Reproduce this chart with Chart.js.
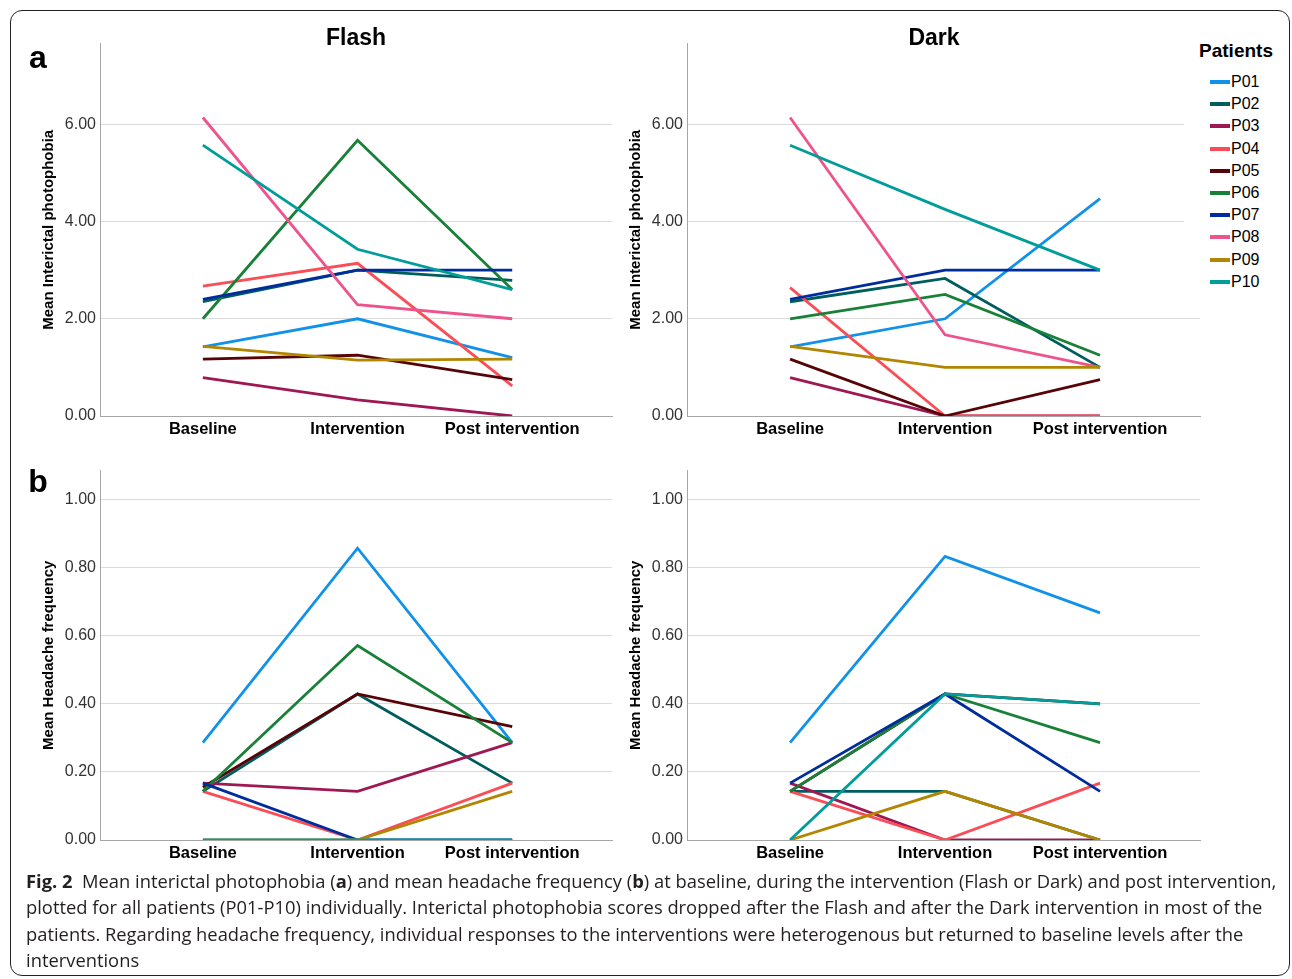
<!DOCTYPE html>
<html>
<head>
<meta charset="utf-8">
<script src="https://cdn.jsdelivr.net/npm/chart.js@4.4.1/dist/chart.umd.min.js"></script>
<style>
  body { margin: 0; background: #fff; }
  #figura { position: relative; width: 1292px; height: 979px; overflow: hidden; background: #fff;
            font-family: "Liberation Sans", Arial, sans-serif; color: #000; }
  #marco { position: absolute; left: 10px; top: 10px; width: 1280px; height: 966px;
           border: 1px solid #222; border-radius: 12px; box-sizing: border-box; }
  canvas { position: absolute; }
  .centro { position: absolute; transform: translate(-50%, -50%); white-space: nowrap; line-height: 1; }
  .titulo { font-weight: bold; font-size: 23px; }
  .letra { font-weight: bold; font-size: 32px; }
  #leyenda { position: absolute; left: 1184px; top: 28px; width: 100px; height: 268px; background: #fff; }
  .item { position: absolute; left: 26px; height: 20px; font-size: 16px; line-height: 20px; }
  .item span.muestra { position: absolute; left: 0; top: 8px; width: 20px; height: 4px; }
  .item span.txt { position: absolute; left: 21px; top: 0; }
  #pie { position: absolute; left: 26px; top: 868px; font-family: "Open Sans", "Noto Sans", sans-serif;
         font-size: 18.35px; line-height: 26.4px; color: #231f20; white-space: nowrap; }
</style>
</head>
<body>
<div id="figura">
  <div id="marco"></div>

  <canvas id="flashA" width="600" height="415" style="left:20px; top:30px;"></canvas>
  <canvas id="darkA" width="601" height="415" style="left:607px; top:30px;"></canvas>
  <canvas id="flashB" width="600" height="412" style="left:20px; top:457px;"></canvas>
  <canvas id="darkB" width="601" height="412" style="left:607px; top:457px;"></canvas>

  <div class="centro titulo" style="left:356px; top:37px;">Flash</div>
  <div class="centro titulo" style="left:934px; top:37px;">Dark</div>
  <div class="centro letra" style="left:38px; top:57px;">a</div>
  <div class="centro letra" style="left:38px; top:481px;">b</div>

  <div id="leyenda"></div>

  <div id="pie">
    <b>Fig. 2</b>&nbsp;&nbsp;Mean interictal photophobia (<b>a</b>) and mean headache frequency (<b>b</b>) at baseline, during the intervention (Flash or Dark) and post intervention,<br>
    plotted for all patients (P01-P10) individually. Interictal photophobia scores dropped after the Flash and after the Dark intervention in most of the<br>
    patients. Regarding headache frequency, individual responses to the interventions were heterogenous but returned to baseline levels after the<br>
    interventions
  </div>
</div>

<script>
// Datos
const categorias = ['Baseline', 'Intervention', 'Post intervention'];
const pacientes = ['P01', 'P02', 'P03', 'P04', 'P05', 'P06', 'P07', 'P08', 'P09', 'P10'];
const colores = ['#1192e8', '#005d5d', '#9f1853', '#fa4d56', '#570408',
                 '#198038', '#002d9c', '#ee538b', '#b28600', '#009d9a'];

// Mean interictal photophobia, una fila por paciente
const fotofobiaFlash = [
  [1.42, 2.00, 1.20],
  [2.35, 3.00, 2.79],
  [0.79, 0.33, 0.00],
  [2.67, 3.14, 0.62],
  [1.17, 1.25, 0.75],
  [2.00, 5.67, 2.60],
  [2.40, 3.00, 3.00],
  [6.14, 2.29, 2.00],
  [1.43, 1.15, 1.17],
  [5.57, 3.43, 2.60]
];
const fotofobiaDark = [
  [1.42, 2.00, 4.47],
  [2.35, 2.83, 1.00],
  [0.79, 0.00, 0.00],
  [2.64, 0.00, 0.00],
  [1.17, 0.00, 0.75],
  [2.00, 2.50, 1.25],
  [2.40, 3.00, 3.00],
  [6.14, 1.67, 1.00],
  [1.43, 1.00, 1.00],
  [5.57, 4.25, 3.00]
];

// Mean headache frequency (P08 sin datos)
const cefaleaFlash = [
  [0.286, 0.857, 0.286],
  [0.143, 0.429, 0.167],
  [0.167, 0.143, 0.286],
  [0.143, 0.000, 0.167],
  [0.155, 0.429, 0.333],
  [0.143, 0.571, 0.286],
  [0.167, 0.000, 0.000],
  [null, null, null],
  [0.000, 0.000, 0.143],
  [0.000, 0.000, 0.000]
];
const cefaleaDark = [
  [0.286, 0.833, 0.667],
  [0.143, 0.143, 0.000],
  [0.167, 0.000, 0.000],
  [0.143, 0.000, 0.167],
  [0.143, 0.429, 0.400],
  [0.143, 0.429, 0.286],
  [0.167, 0.429, 0.143],
  [null, null, null],
  [0.000, 0.143, 0.000],
  [0.000, 0.429, 0.400]
];

const marcasFotofobia = [0, 2, 4, 6];
const marcasCefalea = [0, 0.2, 0.4, 0.6, 0.8, 1.0];

Chart.defaults.font.family = '"Liberation Sans", Arial, sans-serif';

function crearGrafica(id, valores, maxY, marcasY, tituloY) {
  const ctx = document.getElementById(id).getContext('2d');
  return new Chart(ctx, {
    type: 'line',
    data: {
      datasets: pacientes.map((p, i) => ({
        label: p,
        data: valores[i].map((v, j) => ({ x: j, y: v })),
        borderColor: colores[i],
        borderWidth: 2.8,
        pointRadius: 0,
        tension: 0,
        order: pacientes.length - i   // P10 queda encima, como en SPSS
      }))
    },
    options: {
      responsive: false,
      animation: false,
      layout: { padding: { top: 13, right: 8, left: 0, bottom: 0 } },
      plugins: { legend: { display: false }, tooltip: { enabled: false } },
      scales: {
        x: {
          type: 'linear',
          min: -0.665,
          max: 2.645,
          afterBuildTicks: s => { s.ticks = categorias.map((c, j) => ({ value: j })); },
          afterFit: s => { s.height = 29; },
          grid: { display: false, drawTicks: false },
          border: { display: true, color: '#a6a6a6', width: 1 },
          ticks: {
            callback: (v, j) => categorias[j],
            color: '#000',
            font: { size: 16.5, weight: 'bold' },
            padding: 4,
            maxRotation: 0,
            autoSkip: false
          }
        },
        y: {
          min: 0,
          max: maxY,
          afterBuildTicks: s => { s.ticks = marcasY.map(v => ({ value: v })); },
          afterFit: s => { s.width = 80; },
          grid: { color: '#dadada', drawTicks: false },
          border: { display: true, color: '#a6a6a6', width: 1 },
          ticks: { callback: v => v.toFixed(2), color: '#333', font: { size: 16 }, padding: 4 },
          title: {
            display: true,
            text: tituloY,
            color: '#000',
            font: { size: 15, weight: 'bold' },
            padding: { top: 20, bottom: 0 }
          }
        }
      }
    }
  });
}

crearGrafica('flashA', fotofobiaFlash, 7.66, marcasFotofobia, 'Mean Interictal photophobia');
crearGrafica('darkA', fotofobiaDark, 7.66, marcasFotofobia, 'Mean Interictal photophobia');
crearGrafica('flashB', cefaleaFlash, 1.085, marcasCefalea, 'Mean Headache frequency');
crearGrafica('darkB', cefaleaDark, 1.085, marcasCefalea, 'Mean Headache frequency');

// Leyenda hecha a mano
const leyenda = document.getElementById('leyenda');
leyenda.innerHTML = '<div class="centro" style="left:52px; top:22px; font-weight:bold; font-size:19px;">Patients</div>';
pacientes.forEach((p, i) => {
  leyenda.innerHTML += `
    <div class="item" style="top:${44 + i * 22.2}px">
      <span class="muestra" style="background:${colores[i]}"></span>
      <span class="txt">${p}</span>
    </div>`;
});
</script>
</body>
</html>
